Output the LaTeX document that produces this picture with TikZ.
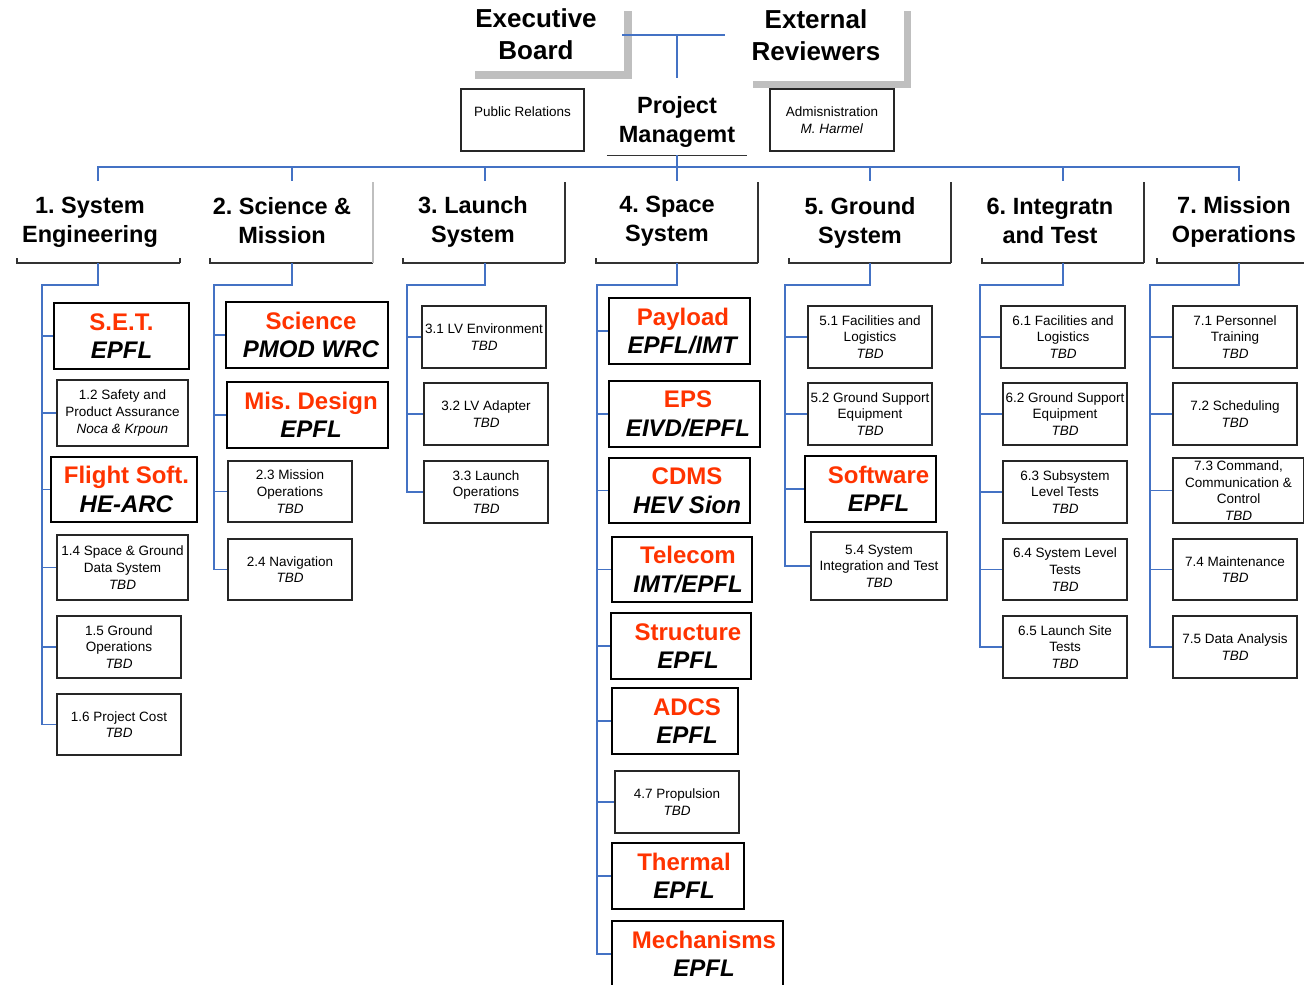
\documentclass[tikz,border=0pt]{standalone}
\usepackage{fontspec}
\setmainfont{Liberation Sans}
\definecolor{wbsBlue}{RGB}{68,114,196}
\definecolor{wbsRed}{RGB}{255,51,0}
\definecolor{wbsShadow}{RGB}{191,191,191}
\newcommand{\wbsLead}[3][0]{\hspace*{#1pt}\textcolor{wbsRed}{#2}\\\hspace*{#1pt}\textit{#3}}
\tikzset{
  wire/.style={draw=wbsBlue, line width=1.5},
  rim/.style={draw=black!80, line width=1.3},
  wp/.style={draw=black!85, line width=1.3, inner sep=0, align=center, font=\fontsize{13.5}{16.7}\selectfont},
  lead/.style={draw=black, line width=2.5, inner sep=0, align=center, font=\bfseries\fontsize{24}{28.5}\selectfont},
  head/.style={inner sep=0, align=center, font=\bfseries\fontsize{23.5}{29}\selectfont},
}
\begin{document}
\frenchspacing
\begin{tikzpicture}[x=1pt,y=-1pt]
\useasboundingbox (0,0) rectangle (1304,985);
\clip (0,0) rectangle (1304,985);

% board and reviewers
\fill[wbsShadow] (624,11) rectangle (632,79);
\fill[wbsShadow] (475,71) rectangle (632,79);
\fill[wbsShadow] (904,11) rectangle (911,88);
\fill[wbsShadow] (753,81) rectangle (911,88);
\draw (536,34) node[head, minimum width=172, font=\bfseries\fontsize{26}{32}\selectfont] (eb) {Executive\\Board};
\draw (816,35) node[head, minimum width=182, font=\bfseries\fontsize{26}{32}\selectfont] (er) {External\\Reviewers};
\draw (677,116.5) node[head, minimum width=140, minimum height=77] (pm) {\rule{0pt}{27pt}Project\\Managemt};
\draw[rim] (pm.south west) -- (pm.south east);
\draw (522.5,120) node[wp, minimum width=123, minimum height=62] (pr) {Public Relations\\\mbox{}};
\draw (832,120) node[wp, minimum width=124, minimum height=62] (adm) {Admisnistration\\\textit{M. Harmel}};

\draw[wire] (eb.east |- 0,35) -- (er.west);
\draw[wire] (pm.north) -- (pm.north |- er.west);

% level 1
\draw (90,222.5) node[head] (h1) {1. System\\Engineering};
\draw (282,220.5) node[head] (h2) {2. Science \&\\Mission};
\draw (473,222) node[head] (h3) {3. Launch\\System};
\draw (667,221.5) node[head] (h4) {4. Space\\System};
\draw (860,223) node[head] (h5) {5. Ground\\System};
\draw (1050,220.5) node[head] (h6) {6. Integratn\\and Test};
\draw (1234,222) node[head] (h7) {7. Mission\\Operations};

\foreach \l/\r in {17/180,210/373,403/565,596/758,789/951,982/1144,1157/1304}
  \draw[rim] (\l,258) -- (\l,263) -- (\r,263);
\foreach \r in {565,758,951,1144}
  \draw[rim] (\r,182) -- (\r,263);
\draw[rim, draw=black!25] (373,182) -- (373,263);
\draw[rim] (180,258) -- (180,263);

\coordinate (bus) at (677,167);
\foreach \k/\x/\y in {1/98/42,2/292/214,3/485/407,4/677/597,5/870/785,6/1063/980,7/1239/1150} {
  \coordinate (t\k) at (\x,181);
  \coordinate (b\k) at (\x,263);
  \coordinate (k\k) at (\y,285);
}
\draw[wire] (pm.south) -- (bus);
\draw[wire] (t1) -- (t1 |- bus) -- (t7 |- bus) -- (t7);
\foreach \k in {2,...,6}
  \draw[wire] (t\k |- bus) -- (t\k);

% 1. system engineering
\draw (121.5,336) node[lead, minimum width=135, minimum height=66] (set) {\wbsLead{S.E.T.}{EPFL}};
\draw (122.5,413) node[wp, minimum width=131, minimum height=66] (w12) {1.2 Safety and\\Product Assurance\\\textit{Noca \& Krpoun}};
\draw (124,489.5) node[lead, minimum width=146, minimum height=65] (fs) {\wbsLead[5]{Flight Soft.}{HE-ARC}};
\draw (122.5,567.5) node[wp, minimum width=131, minimum height=65] (w14) {1.4 Space \& Ground\\Data System\\\textit{TBD}};
\draw (119,647) node[wp, minimum width=124, minimum height=62] (w15) {1.5 Ground\\Operations\\\textit{TBD}};
\draw (119,724.5) node[wp, minimum width=124, minimum height=61] (w16) {1.6 Project Cost\\\textit{TBD}};
\draw[wire] (b1) |- (k1) |- (w16.west);
\foreach \n in {set,w12,fs,w14,w15}
  \draw[wire] (k1 |- \n.west) -- (\n.west);

% 2. science and mission
\draw (307,335) node[lead, minimum width=162, minimum height=66] (sci) {\wbsLead[8]{Science}{PMOD WRC}};
\draw (307.5,415) node[lead, minimum width=161, minimum height=66] (mis) {\wbsLead[7]{Mis. Design}{EPFL}};
\draw (290,491.5) node[wp, minimum width=124, minimum height=61] (w23) {2.3 Mission\\Operations\\\textit{TBD}};
\draw (290,569.5) node[wp, minimum width=124, minimum height=61] (w24) {2.4 Navigation\\\textit{TBD}};
\draw[wire] (b2) |- (k2) |- (w24.west);
\foreach \n in {sci,mis,w23}
  \draw[wire] (k2 |- \n.west) -- (\n.west);

% 3. launch system
\draw (484,337) node[wp, minimum width=124, minimum height=62] (w31) {3.1 LV Environment\\\textit{TBD}};
\draw (486,414) node[wp, minimum width=124, minimum height=62] (w32) {3.2 LV Adapter\\\textit{TBD}};
\draw (486,492) node[wp, minimum width=124, minimum height=62] (w33) {3.3 Launch\\Operations\\\textit{TBD}};
\draw[wire] (b3) |- (k3) |- (w33.west);
\foreach \n in {w31,w32}
  \draw[wire] (k3 |- \n.west) -- (\n.west);

% 4. space system
\draw (679.5,331) node[lead, minimum width=141, minimum height=66] (pay) {\wbsLead[7]{Payload}{EPFL/IMT}};
\draw (684.5,414) node[lead, minimum width=151, minimum height=66] (eps) {\wbsLead[7]{EPS}{EIVD/EPFL}};
\draw (679.5,490.5) node[lead, minimum width=141, minimum height=65] (cdms) {\wbsLead[15]{CDMS}{HEV Sion}};
\draw (682,569.5) node[lead, minimum width=140, minimum height=65] (tel) {\wbsLead[12]{Telecom}{IMT/EPFL}};
\draw (681,646) node[lead, minimum width=140, minimum height=66] (str) {\wbsLead[14]{Structure}{EPFL}};
\draw (675,721) node[lead, minimum width=126, minimum height=66] (adcs) {\wbsLead[24]{ADCS}{EPFL}};
\draw (677,802) node[wp, minimum width=124, minimum height=62] (w47) {4.7 Propulsion\\\textit{TBD}};
\draw (678,876) node[lead, minimum width=132, minimum height=66] (thm) {\wbsLead[12]{Thermal}{EPFL}};
\draw (697.5,954) node[lead, minimum width=171, minimum height=66] (mech) {\wbsLead[13]{Mechanisms}{EPFL}};
\draw[wire] (b4) |- (k4) |- (mech.west);
\foreach \n in {pay,eps,cdms,tel,str,adcs,w47,thm}
  \draw[wire] (k4 |- \n.west) -- (\n.west);

% 5. ground system
\draw (870,337) node[wp, minimum width=124, minimum height=62] (w51) {5.1 Facilities and\\Logistics\\\textit{TBD}};
\draw (870,414) node[wp, minimum width=124, minimum height=62] (w52) {5.2 Ground Support\\Equipment\\\textit{TBD}};
\draw (870.5,489) node[lead, minimum width=131, minimum height=66] (sw) {\wbsLead[16]{Software}{EPFL}};
\draw (879,566) node[wp, minimum width=136, minimum height=68] (w54) {5.4 System\\Integration and Test\\\textit{TBD}};
\draw[wire] (b5) |- (k5) |- (w54.west);
\foreach \n in {w51,w52,sw}
  \draw[wire] (k5 |- \n.west) -- (\n.west);

% 6. integration and test
\draw (1063,337) node[wp, minimum width=124, minimum height=62] (w61) {6.1 Facilities and\\Logistics\\\textit{TBD}};
\draw (1065,414) node[wp, minimum width=124, minimum height=62] (w62) {6.2 Ground Support\\Equipment\\\textit{TBD}};
\draw (1065,492) node[wp, minimum width=124, minimum height=62] (w63) {6.3 Subsystem\\Level Tests\\\textit{TBD}};
\draw (1065,569.5) node[wp, minimum width=124, minimum height=61] (w64) {6.4 System Level\\Tests\\\textit{TBD}};
\draw (1065,647) node[wp, minimum width=124, minimum height=62] (w65) {6.5 Launch Site\\Tests\\\textit{TBD}};
\draw[wire] (b6) |- (k6) |- (w65.west);
\foreach \n in {w61,w62,w63,w64}
  \draw[wire] (k6 |- \n.west) -- (\n.west);

% 7. mission operations
\draw (1235,337) node[wp, minimum width=124, minimum height=62] (w71) {7.1 Personnel\\Training\\\textit{TBD}};
\draw (1235,414) node[wp, minimum width=124, minimum height=62] (w72) {7.2 Scheduling\\\textit{TBD}};
\draw (1238.5,490.5) node[wp, minimum width=131, minimum height=65] (w73) {7.3 Command,\\Communication \&\\Control\\\textit{TBD}};
\draw (1235,569.5) node[wp, minimum width=124, minimum height=61] (w74) {7.4 Maintenance\\\textit{TBD}};
\draw (1235,647) node[wp, minimum width=124, minimum height=62] (w75) {7.5 Data Analysis\\\textit{TBD}};
\draw[wire] (b7) |- (k7) |- (w75.west);
\foreach \n in {w71,w72,w73,w74}
  \draw[wire] (k7 |- \n.west) -- (\n.west);
\end{tikzpicture}
\end{document}
